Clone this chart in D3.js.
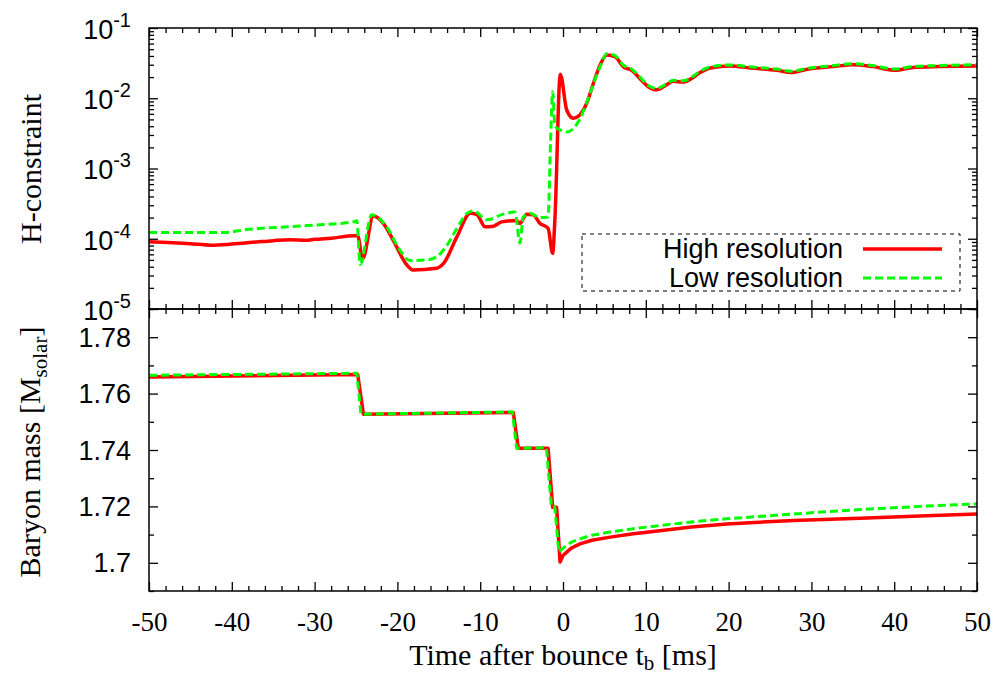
<!DOCTYPE html>
<html>
<head>
<meta charset="utf-8">
<script src="https://cdn.jsdelivr.net/npm/d3@7"></script>
<style>
  body { margin: 0; background: #fff; }
  svg { display: block; }
  .frame { fill: none; stroke: #000; stroke-width: 1.5; }
  .axis path { display: none; }
  .axis line { stroke: #000; stroke-width: 1.3; }
  .xlab text { font-family: "Liberation Serif", serif; font-size: 27px; fill: #000; }
  .ylab text { font-family: "Liberation Sans", Arial, sans-serif; font-size: 27px; fill: #000; }
  .title { font-family: "Liberation Serif", serif; font-size: 30px; fill: #000; }
  .legend text { font-family: "Liberation Sans", Arial, sans-serif; font-size: 27px; fill: #000; }
</style>
</head>
<body>
<svg id="chart" width="994" height="679"></svg>
<script>
// time after bounce [ms]
const xTicks = [-50, -40, -30, -20, -10, 0, 10, 20, 30, 40, 50];
const hTicks = [1e-5, 1e-4, 1e-3, 1e-2, 1e-1];
const massTicks = [1.70, 1.72, 1.74, 1.76, 1.78];
const seriesNames = ["High resolution", "Low resolution"];

// H-constraint, high resolution
const tHighH = [-50, -45, -42.5, -40, -37, -35, -33, -31, -30, -28, -25.2, -24.8, -24.2, -22.9, -21.7, -20.5,
  -18.9, -18.1, -15.3, -14.4, -12.8, -11.2, -10.4, -9.4, -8.4, -7.4, -5.6, -5.2, -4.4, -3.6, -2.8, -1.8,
  -1.25, -0.97, -0.33, 0.45, 1.24, 1.9, 2.86, 3.66, 4.47, 5.28, 6.28, 7.29, 8.3, 9.3, 10.3, 11.3, 12.5,
  13.3, 14.5, 15.5, 16.5, 17.8, 20.2, 22.6, 25.8, 27.6, 29.4, 32.6, 35.0, 37.4, 40.1, 42.3, 45.5, 50];
const hHigh = [9.1e-5, 8.5e-5, 8.1e-5, 8.4e-5, 9.0e-5, 9.4e-5, 9.7e-5, 9.5e-5, 9.8e-5, 1.02e-4, 1.1e-4, 1.1e-4,
  5.2e-5, 2.1e-4, 1.66e-4, 9.5e-5, 4.3e-5, 3.6e-5, 3.8e-5, 4.5e-5, 1.07e-4, 2.3e-4, 2.2e-4, 1.48e-4,
  1.51e-4, 1.74e-4, 1.82e-4, 1.65e-4, 2.24e-4, 2.2e-4, 1.66e-4, 1.41e-4, 6.2e-5, 2.0e-4, 2.2e-2, 6.8e-3,
  5.2e-3, 5.6e-3, 8.5e-3, 1.62e-2, 2.95e-2, 4.13e-2, 3.9e-2, 2.8e-2, 2.5e-2, 1.9e-2, 1.46e-2, 1.32e-2,
  1.55e-2, 1.74e-2, 1.7e-2, 1.9e-2, 2.3e-2, 2.7e-2, 2.88e-2, 2.7e-2, 2.5e-2, 2.32e-2, 2.57e-2, 2.82e-2,
  3.0e-2, 2.82e-2, 2.5e-2, 2.75e-2, 2.82e-2, 2.88e-2];

// H-constraint, low resolution
const tLowH = [-50, -41, -38.2, -32.2, -25.3, -24.9, -24.5, -23.1, -21.3, -19.7, -18.5, -16.5, -15.3, -14.1,
  -12.8, -11.6, -10.8, -9.2, -7.2, -5.8, -5.2, -4.8, -4.0, -2.8, -1.8, -1.5, -1.25, -0.97, -0.36, 0.45,
  1.24, 2.05, 3.26, 4.47, 5.28, 6.28, 7.29, 8.3, 9.3, 10.3, 11.3, 12.5, 13.3, 14.5, 15.5, 16.5, 17.8,
  20.2, 22.6, 25.8, 27.6, 29.4, 32.6, 35.0, 37.4, 40.1, 42.3, 45.5, 50];
const hLow = [1.23e-4, 1.23e-4, 1.35e-4, 1.51e-4, 1.74e-4, 1.8e-4, 4.3e-5, 2.2e-4, 1.48e-4, 6.9e-5, 4.9e-5,
  5.0e-5, 5.5e-5, 7.8e-5, 1.41e-4, 2.3e-4, 2.5e-4, 1.86e-4, 2.24e-4, 2.4e-4, 8.7e-5, 2.04e-4, 2.3e-4,
  2.0e-4, 2.04e-4, 2.5e-3, 1.24e-2, 4.0e-3, 3.55e-3, 3.3e-3, 3.7e-3, 5.1e-3, 1.17e-2, 2.8e-2, 4.3e-2,
  4.05e-2, 2.95e-2, 2.6e-2, 2.0e-2, 1.52e-2, 1.38e-2, 1.6e-2, 1.8e-2, 1.77e-2, 1.98e-2, 2.4e-2, 2.8e-2,
  2.98e-2, 2.8e-2, 2.6e-2, 2.42e-2, 2.65e-2, 2.92e-2, 3.1e-2, 2.92e-2, 2.6e-2, 2.85e-2, 2.92e-2, 3.0e-2];

// baryon mass [M_solar]
const tHighM = [-50, -24.8, -24.1, -6.0, -5.4, -1.8, -1.25, -0.77, -0.36, 0.0, 0.45, 1.0, 2.05, 3.5, 5.7, 8.5, 11.7, 15.5,
  19.8, 27.8, 35.9, 43.9, 50];
const mHigh = [1.7659, 1.7668, 1.7527, 1.7533, 1.7406, 1.7406, 1.7197, 1.7197, 1.7003, 1.7026, 1.7038, 1.7052,
  1.7067, 1.7080, 1.7091, 1.7103, 1.7114, 1.7127, 1.7138, 1.7150, 1.7158, 1.7167, 1.7173];
const tLowM = [-50, -24.9, -24.4, -6.1, -5.6, -2.0, -1.4, -1.0, -0.5, 0.0, 0.45, 1.0, 2.05, 3.5, 5.7, 8.5, 11.7, 15.5,
  19.8, 27.8, 35.9, 43.9, 50];
const mLow = [1.7665, 1.7672, 1.7527, 1.7535, 1.7406, 1.7408, 1.7199, 1.7199, 1.7038, 1.7052, 1.7061, 1.7073,
  1.7085, 1.7098, 1.7109, 1.7121, 1.7132, 1.7145, 1.7156, 1.7173, 1.7189, 1.7201, 1.7209];

const svg = d3.select("#chart");
const left = 149, right = 977;
const topY0 = 28, topY1 = 309, botY1 = 591;

let x = d3.scaleLinear().domain([-50, 50]).range([left, right]);
let yH = d3.scaleLog().domain([1e-5, 1e-1]).range([topY1, topY0]);
let yM = d3.scaleLinear().domain([1.69, 1.79]).range([botY1, topY1]);

const xMinor = d3.range(-50, 51, 2).filter(v => v % 10 != 0);
const hMinor = yH.ticks().filter(v => hTicks.indexOf(v) < 0);
const mMinor = [1.69, 1.71, 1.73, 1.75, 1.77, 1.79];

function hyphen(v) { return String(v).replace("\u2212", "-"); }

// tick marks, all pointing into the panels
function ticks(axis, tr) {
  svg.append("g").attr("class", "axis").attr("transform", tr).call(axis);
}
// top panel
ticks(d3.axisBottom(x).tickValues(xTicks).tickSizeInner(-9).tickSizeOuter(0).tickFormat(""), `translate(0,${topY1})`);
ticks(d3.axisBottom(x).tickValues(xMinor).tickSizeInner(-5).tickSizeOuter(0).tickFormat(""), `translate(0,${topY1})`);
ticks(d3.axisTop(x).tickValues(xTicks).tickSizeInner(-9).tickSizeOuter(0).tickFormat(""), `translate(0,${topY0})`);
ticks(d3.axisTop(x).tickValues(xMinor).tickSizeInner(-5).tickSizeOuter(0).tickFormat(""), `translate(0,${topY0})`);
ticks(d3.axisLeft(yH).tickValues(hTicks).tickSizeInner(-9).tickSizeOuter(0).tickFormat(""), `translate(${left},0)`);
ticks(d3.axisLeft(yH).tickValues(hMinor).tickSizeInner(-5).tickSizeOuter(0).tickFormat(""), `translate(${left},0)`);
ticks(d3.axisRight(yH).tickValues(hTicks).tickSizeInner(-9).tickSizeOuter(0).tickFormat(""), `translate(${right},0)`);
ticks(d3.axisRight(yH).tickValues(hMinor).tickSizeInner(-5).tickSizeOuter(0).tickFormat(""), `translate(${right},0)`);
// bottom panel
ticks(d3.axisBottom(x).tickValues(xTicks).tickSizeInner(-9).tickSizeOuter(0).tickFormat(""), `translate(0,${botY1})`);
ticks(d3.axisBottom(x).tickValues(xMinor).tickSizeInner(-5).tickSizeOuter(0).tickFormat(""), `translate(0,${botY1})`);
ticks(d3.axisTop(x).tickValues(xTicks).tickSizeInner(-9).tickSizeOuter(0).tickFormat(""), `translate(0,${topY1})`);
ticks(d3.axisTop(x).tickValues(xMinor).tickSizeInner(-5).tickSizeOuter(0).tickFormat(""), `translate(0,${topY1})`);
ticks(d3.axisLeft(yM).tickValues(massTicks).tickSizeInner(-9).tickSizeOuter(0).tickFormat(""), `translate(${left},0)`);
ticks(d3.axisLeft(yM).tickValues(mMinor).tickSizeInner(-5).tickSizeOuter(0).tickFormat(""), `translate(${left},0)`);
ticks(d3.axisRight(yM).tickValues(massTicks).tickSizeInner(-9).tickSizeOuter(0).tickFormat(""), `translate(${right},0)`);
ticks(d3.axisRight(yM).tickValues(mMinor).tickSizeInner(-5).tickSizeOuter(0).tickFormat(""), `translate(${right},0)`);

// tick labels
svg.append("g").attr("class", "axis xlab").attr("transform", `translate(0,${botY1})`)
  .call(d3.axisBottom(x).tickValues(xTicks).tickSize(0).tickPadding(21).tickFormat(d => hyphen(d)));

let massAxis = svg.append("g").attr("class", "axis ylab").attr("transform", `translate(${left},0)`)
  .call(d3.axisLeft(yM).tickValues(massTicks).tickSize(0).tickPadding(18).tickFormat(d => d3.format(".2~f")(d)));
massAxis.selectAll("text").attr("dy", "0.34em");

let hAxis = svg.append("g").attr("class", "axis ylab").attr("transform", `translate(${left},0)`)
  .call(d3.axisLeft(yH).tickValues(hTicks).tickSize(0).tickPadding(18).tickFormat(""));
hAxis.selectAll(".tick text").each(function(d) {
  let t = d3.select(this).attr("dy", "0.38em");
  t.append("tspan").text("10");
  t.append("tspan").attr("dy", -12).attr("font-size", "20px").text(hyphen(Math.round(Math.log10(d))));
});

// lines
svg.append("clipPath").attr("id", "clipTop")
  .append("rect").attr("x", left).attr("y", topY0).attr("width", right - left).attr("height", topY1 - topY0);
svg.append("clipPath").attr("id", "clipBot")
  .append("rect").attr("x", left).attr("y", topY1).attr("width", right - left).attr("height", botY1 - topY1);

function drawLine(ts, vs, yScale, clip, color, width, dash, curve) {
  let line = d3.line().x(d => x(d[0])).y(d => yScale(d[1])).curve(curve);
  svg.append("path").datum(d3.zip(ts, vs))
    .attr("clip-path", `url(#${clip})`)
    .attr("fill", "none").attr("stroke", color).attr("stroke-width", width)
    .attr("stroke-linejoin", "round")
    .attr("stroke-dasharray", dash).attr("d", line);
}
drawLine(tHighH, hHigh, yH, "clipTop", "#ff0000", 3.5, null, d3.curveMonotoneX);
drawLine(tLowH, hLow, yH, "clipTop", "#00ff00", 3, "8,4", d3.curveMonotoneX);
drawLine(tHighM, mHigh, yM, "clipBot", "#ff0000", 3.5, null, d3.curveLinear);
drawLine(tLowM, mLow, yM, "clipBot", "#00ff00", 3, "8,4", d3.curveLinear);

// frames
svg.append("rect").attr("class", "frame").attr("x", left).attr("y", topY0).attr("width", right - left).attr("height", topY1 - topY0);
svg.append("rect").attr("class", "frame").attr("x", left).attr("y", topY1).attr("width", right - left).attr("height", botY1 - topY1);

// legend
let lg = svg.append("g").attr("class", "legend");
lg.append("rect").attr("x", 582).attr("y", 234).attr("width", 378).attr("height", 57)
  .attr("fill", "#fff").attr("stroke", "#000").attr("stroke-width", 1).attr("stroke-dasharray", "4,4");
const legendColors = ["#ff0000", "#00ff00"];
seriesNames.forEach((name, i) => {
  let yy = 249 + i * 29;
  lg.append("text").attr("x", 843).attr("y", yy + 9).attr("text-anchor", "end").text(name);
  lg.append("line").attr("x1", 863).attr("x2", 942).attr("y1", yy).attr("y2", yy)
    .attr("stroke", legendColors[i]).attr("stroke-width", i == 0 ? 3.5 : 3)
    .attr("stroke-dasharray", i == 0 ? null : "8,4");
});

// axis titles
let xt = svg.append("text").attr("class", "title").attr("x", 563).attr("y", 665).attr("text-anchor", "middle");
xt.append("tspan").text("Time after bounce t");
xt.append("tspan").attr("font-size", "21px").attr("dy", 5).text("b");
xt.append("tspan").attr("dy", -5).text(" [ms]");

svg.append("text").attr("class", "title").attr("text-anchor", "middle")
  .attr("transform", "translate(41,169) rotate(-90)").text("H-constraint");

let mt = svg.append("text").attr("class", "title").attr("text-anchor", "middle")
  .attr("transform", "translate(40,452) rotate(-90)");
mt.append("tspan").text("Baryon mass [M");
mt.append("tspan").attr("font-size", "21px").attr("dy", 7).text("solar");
mt.append("tspan").attr("dy", -7).text("]");
</script>
</body>
</html>
